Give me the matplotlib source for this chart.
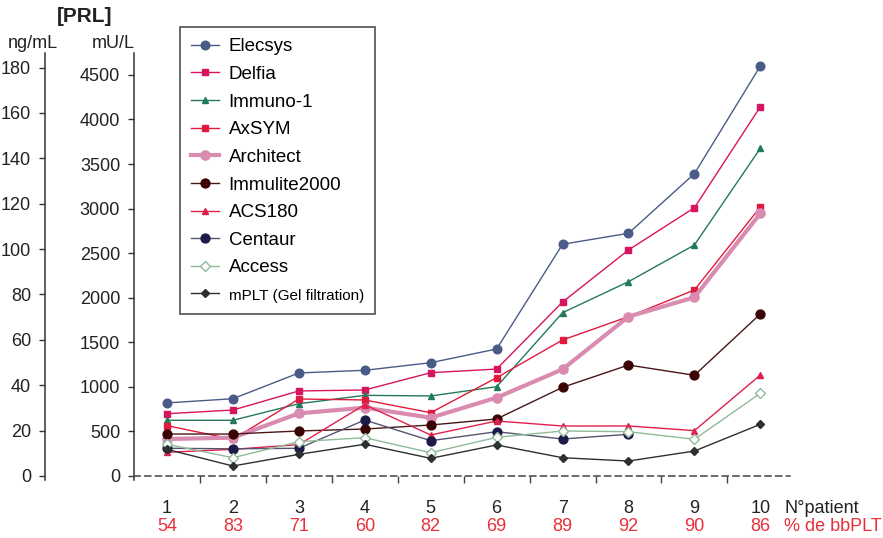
import numpy as np
import matplotlib.pyplot as plt

plt.rcParams['font.family'] = ['Liberation Sans', 'DejaVu Sans']

patients = [1, 2, 3, 4, 5, 6, 7, 8, 9, 10]
pct_bbplt = [54, 83, 71, 60, 82, 69, 89, 92, 90, 86]

# PRL in mU/L
elecsys = [820, 867, 1156, 1186, 1271, 1425, 2600, 2723, 3392, 4600]
delfia = [699, 740, 954, 965, 1159, 1200, 1952, 2536, 3010, 4143]
immuno1 = [625, 625, 811, 905, 898, 1002, 1832, 2180, 2592, 3677]
axsym = [565, 412, 864, 853, 710, 1103, 1526, 1788, 2087, 3018]
architect = [415, 430, 703, 767, 654, 879, 1197, 1788, 2005, 2947]
immulite = [471, 471, 505, 527, 572, 640, 995, 1245, 1130, 1818]
acs180 = [266, 299, 352, 800, 460, 617, 561, 561, 509, 1133]
centaur = [311, 305, 311, 628, 396, 497, 415, 468, np.nan, np.nan]
access = [356, 205, 385, 430, 261, 434, 505, 497, 412, 928]
mplt = [299, 112, 243, 356, 198, 348, 205, 168, 280, 580]

mu_per_ng = 25.46

styles = [
    ("Elecsys", elecsys, dict(color="#4b5b88", marker="o", ms=6.2, lw=1.0)),
    ("Delfia", delfia, dict(color="#d8145f", marker="s", ms=4.6, lw=1.0)),
    ("Immuno-1", immuno1, dict(color="#237a58", marker="^", ms=4.8, lw=1.0)),
    ("AxSYM", axsym, dict(color="#e01a3c", marker="s", ms=4.8, lw=1.0)),
    ("Architect", architect, dict(color="#d98bb0", marker="o", ms=6.6, lw=3.0)),
    ("Immulite2000", immulite, dict(color="#4a1616", mfc="#3a0404", mec="#3a0404", marker="o", ms=6.4, lw=1.0)),
    ("ACS180", acs180, dict(color="#e0204c", marker="^", ms=4.8, lw=1.0)),
    ("Centaur", centaur, dict(color="#55546e", mfc="#1c1a48", mec="#1c1a48", marker="o", ms=6.4, lw=1.0)),
    ("Access", access, dict(color="#8fbb9a", mfc="white", marker="D", ms=4.8, lw=1.0, mew=1.0)),
    ("mPLT (Gel filtration)", mplt, dict(color="#2c3030", marker="D", ms=3.6, lw=1.0)),
]

fig = plt.figure(figsize=(8.83, 5.38), dpi=100)
ax = fig.add_axes([0.1518, 0.1078, 0.7429, 0.7937])

for name, vals, kw in styles:
    ax.plot(patients, vals, label=name, **kw)

ylo, yhi = -45, 4746
ax.set_ylim(ylo, yhi)
ax.set_xlim(0.5, 10.45)
ax.set_yticks(np.arange(0, 4501, 500))
ax.set_xticks(np.arange(1.5, 10, 1))
ax.set_xticklabels([])

for s in ["top", "right"]:
    ax.spines[s].set_visible(False)
ax.spines["left"].set_color("#333333")
ax.spines["left"].set_linewidth(1.1)
ax.spines["bottom"].set_position(("data", 0))
ax.spines["bottom"].set_linestyle((0, (4, 3)))
ax.spines["bottom"].set_color("#444444")
ax.spines["bottom"].set_linewidth(1.1)
ax.tick_params(axis="y", direction="out", length=4, width=1, colors="#333333",
               labelsize=13, labelcolor="#222222", pad=6)
ax.tick_params(axis="x", direction="out", length=5, width=1, colors="#444444")

# ng/mL axis
ax2 = ax.twinx()
ax2.set_ylim(ylo / mu_per_ng, yhi / mu_per_ng)
ax2.set_yticks(np.arange(0, 181, 20))
ax2.yaxis.set_ticks_position("left")
ax2.yaxis.set_label_position("left")
ax2.spines["left"].set_position(("axes", -0.1357))
for s in ["top", "right", "bottom"]:
    ax2.spines[s].set_visible(False)
ax2.spines["left"].set_color("#333333")
ax2.spines["left"].set_linewidth(1.1)
ax2.tick_params(axis="y", direction="out", length=4, width=1, colors="#333333",
                labelsize=13, labelcolor="#222222", pad=6)

fig.text(85 / 883, 1 - 17 / 538, "[PRL]", fontsize=15, fontweight="bold",
         ha="center", va="center", color="#222222")
fig.text(33 / 883, 1 - 43 / 538, "ng/mL", fontsize=13, ha="center", va="center", color="#222222")
fig.text(113 / 883, 1 - 43 / 538, "mU/L", fontsize=13, ha="center", va="center", color="#222222")

xt = ax.get_xaxis_transform()
for p, pct in zip(patients, pct_bbplt):
    ax.text(p, -0.0656, str(p), transform=xt, ha="center", va="center",
            fontsize=13, color="#222222", clip_on=False)
    ax.text(p, -0.110, str(pct), transform=xt, ha="center", va="center",
            fontsize=13, color="#e8303a", clip_on=False)
ax.text(10.36, -0.0656, "N\u00b0patient", transform=xt, ha="left", va="center",
        fontsize=13, color="#222222", clip_on=False)
ax.text(10.36, -0.110, "% de bbPLT", transform=xt, ha="left", va="center",
        fontsize=13, color="#e8303a", clip_on=False)

leg = ax.legend(loc="upper left", bbox_to_anchor=(180 / 883, 1 - 27 / 538),
                bbox_transform=fig.transFigure, borderaxespad=0, fontsize=13.5,
                frameon=True, fancybox=False, edgecolor="#222222",
                handlelength=1.5, labelspacing=0.56, borderpad=0.6, handletextpad=0.5)
leg.get_frame().set_linewidth(1.2)
leg.get_texts()[-1].set_fontsize(11)

fig.savefig("out.png", dpi=100)
plt.close("all")
